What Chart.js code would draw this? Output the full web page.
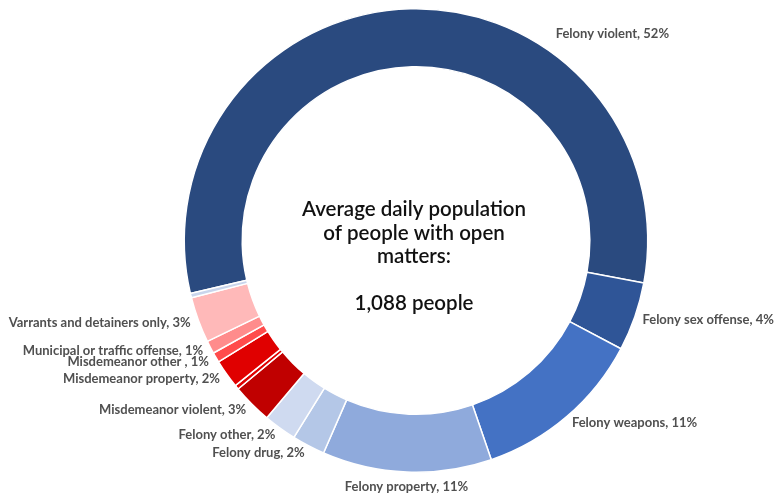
<!DOCTYPE html>
<html>
<head>
<meta charset="utf-8">
<script src="https://cdn.jsdelivr.net/npm/chart.js@4.4.0/dist/chart.umd.min.js"></script>
<style>
  html, body { margin: 0; padding: 0; background: #fff; }
  #wrap { width: 782px; height: 499px; }
</style>
</head>
<body>
<div id="wrap"><canvas id="openMattersChart"></canvas></div>
<script>
// categories (clockwise, starting with Felony violent)
const categories = [
    'Felony violent', 'Felony sex offense', 'Felony weapons', 'Felony property',
    'Felony drug', 'Felony other', 'Misdemeanor violent', '',
    'Misdemeanor property', 'Misdemeanor other ', 'Municipal or traffic offense',
    'Varrants and detainers only', ''
];
// share of population
const shares = [56.6, 4.8, 12.0, 11.8, 2.3, 2.3, 2.8, 0.3, 2.0, 0.7, 0.9, 3.2, 0.3];
// percentage text shown in the labels
const pctLabels = ['52%', '4%', '11%', '11%', '2%', '2%', '3%', '', '2%', '1%', '1%', '3%', ''];
const sliceColors = [
    '#2A4A7F', '#2F5597', '#4472C4', '#8FAADC', '#B4C7E7', '#CFDAF0', '#C00000',
    '#E00000', '#E00000', '#FF4B4B', '#FF8C8C', '#FFB9B9', '#C9D5EC'
];
const centerLines = ['Average daily population', 'of people with open', 'matters:', '', '1,088 people'];

// slice labels, drawn outside the ring
const outsideLabels = {
    id: 'outsideLabels',
    afterDraw(chart) {
        const ctx = chart.ctx;
        const arcs = chart.getDatasetMeta(0).data;
        ctx.save();
        ctx.font = 'bold 13px Lato';
        ctx.fillStyle = '#505050';
        arcs.forEach((arc, i) => {
            if (!categories[i]) return;
            const text = categories[i] + ', ' + pctLabels[i];
            let a = (arc.startAngle + arc.endAngle) / 2;
            let r = arc.outerRadius + 8;
            if (i === 0) { // label moved off the top, as in the original
                a = (34 - 90) * Math.PI / 180;
                r = arc.outerRadius + 18;
            }
            const cos = Math.cos(a), sin = Math.sin(a);
            const x = arc.x + r * cos;
            const y = arc.y + r * sin;
            if (cos > 0.15) ctx.textAlign = 'left';
            else if (cos < -0.15) ctx.textAlign = 'right';
            else ctx.textAlign = 'center';
            ctx.textBaseline = Math.abs(cos) <= 0.15 ? (sin > 0 ? 'top' : 'bottom') : 'middle';
            ctx.fillText(text, x, y);
        });
        ctx.restore();
    }
};

const centerText = {
    id: 'centerText',
    afterDraw(chart) {
        const ctx = chart.ctx;
        const arc = chart.getDatasetMeta(0).data[0];
        ctx.save();
        ctx.font = '600 20.5px Lato';
        ctx.fillStyle = '#111';
        ctx.textAlign = 'center';
        ctx.textBaseline = 'middle';
        const lh = 23.5;
        const top = arc.y - 31;
        centerLines.forEach((line, i) => {
            ctx.fillText(line, arc.x - 2, top + i * lh);
        });
        ctx.restore();
    }
};

const ctx = document.getElementById('openMattersChart').getContext('2d');
new Chart(ctx, {
    type: 'doughnut',
    data: {
        labels: categories,
        datasets: [{
            data: shares,
            backgroundColor: sliceColors,
            borderColor: '#ffffff',
            borderWidth: 1.5
        }]
    },
    options: {
        responsive: true,
        maintainAspectRatio: false,
        animation: false,
        cutout: '75%',
        rotation: -103.2,
        layout: { padding: { top: 8, bottom: 26, left: 50, right: 0 } },
        plugins: {
            legend: { display: false },
            tooltip: { enabled: false }
        }
    },
    plugins: [outsideLabels, centerText]
});
</script>
</body>
</html>
